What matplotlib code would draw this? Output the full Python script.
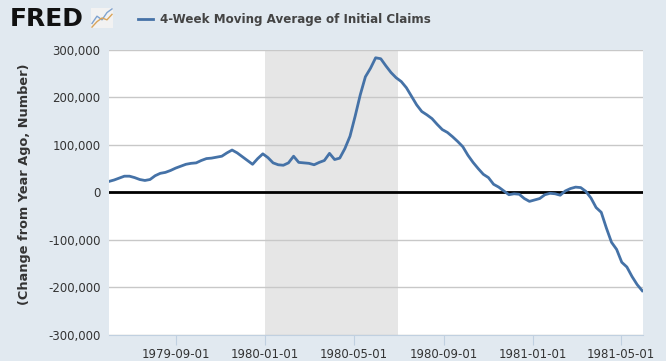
import matplotlib
matplotlib.use("Agg")
import matplotlib.pyplot as plt
import matplotlib.dates as mdates
from matplotlib.lines import Line2D
from matplotlib.ticker import FuncFormatter
import pandas as pd

# weekly data, change from year ago (thousands)
start_date = "1979-06-02"
claims_chg_k = [
    23, 26, 30, 34, 34, 31, 27, 25, 27, 35,
    40, 42, 46, 51, 55, 59, 61, 62, 67, 71,
    72, 74, 76, 83, 89, 83, 75, 67, 59, 71,
    81, 73, 62, 58, 57, 62, 76, 63, 62, 61,
    58, 63, 67, 82, 69, 72, 92, 118, 160, 205,
    243, 261, 283, 281, 266, 252, 241, 233, 220, 202,
    184, 170, 163, 155, 143, 132, 126, 117, 107, 96,
    78, 63, 50, 38, 31, 17, 11, 3, -5, -3,
    -4, -13, -19, -16, -13, -5, -2, -3, -6, 3,
    8, 11, 10, 2, -12, -32, -42, -75, -105, -120,
    -147, -157, -177, -194, -207,
]
recession = ("1980-01-01", "1980-07-01")
xtick_dates = ["1979-09-01", "1980-01-01", "1980-05-01",
               "1980-09-01", "1981-01-01", "1981-05-01"]
yticks = [-300000, -200000, -100000, 0, 100000, 200000, 300000]

dates = pd.date_range(start_date, periods=len(claims_chg_k), freq="7D")
values = [v * 1000 for v in claims_chg_k]

bg = "#e1e9f0"
line_col = "#4572a7"
txt_col = "#333333"

fig = plt.figure(figsize=(6.66, 3.61), dpi=100, facecolor=bg)
ax = fig.add_axes([109 / 666, 1 - 335 / 361, (643 - 109) / 666, (335 - 49.7) / 361])
ax.set_facecolor("white")

ax.axvspan(pd.Timestamp(recession[0]), pd.Timestamp(recession[1]),
           color="#e6e6e6", lw=0, zorder=0)
for yv in yticks:
    if yv != 0:
        ax.axhline(yv, color="#c8c8c8", lw=1, zorder=1)
ax.axhline(0, color="black", lw=2, zorder=2)
ax.plot(dates, values, color=line_col, lw=2, zorder=3)

ax.set_xlim(dates[0], pd.Timestamp("1981-05-31"))
ax.set_ylim(-300000, 300000)
ax.set_yticks(yticks)
ax.yaxis.set_major_formatter(FuncFormatter(lambda v, p: "{:,.0f}".format(v)))
ax.set_xticks([pd.Timestamp(d) for d in xtick_dates])
ax.xaxis.set_major_formatter(mdates.DateFormatter("%Y-%m-%d"))

for s in ["top", "right", "left"]:
    ax.spines[s].set_visible(False)
ax.spines["bottom"].set_color("#c0d0e0")
ax.spines["bottom"].set_linestyle((0, (1, 1)))
ax.tick_params(axis="y", length=0, pad=6, labelsize=8.5, labelcolor=txt_col)
ax.tick_params(axis="x", length=7, color="#c0d0e0", pad=2,
               labelsize=8.5, labelcolor=txt_col)

fig.text(25 / 666, 1 - 184 / 361, "(Change from Year Ago, Number)",
         rotation=90, ha="center", va="center", fontsize=9.3,
         fontweight="bold", color=txt_col)

# header: logo and legend
fig.text(10 / 666, 1 - 19 / 361, "FRED", fontsize=18, fontweight="heavy",
         color="#111111", ha="left", va="center")
icon = fig.add_axes([91 / 666, 1 - 28 / 361, 22 / 666, 20 / 361])
icon.set_facecolor("#f2f2f2")
icon.plot([0, 1, 2, 3, 4], [0.2, 0.6, 0.4, 0.8, 1.0], color="#7fa3d0", lw=1)
icon.plot([0, 1, 2, 3, 4], [0.0, 0.3, 0.5, 0.4, 0.7], color="#d9a45a", lw=1)
icon.set_xticks([])
icon.set_yticks([])
for s in icon.spines.values():
    s.set_visible(False)

fig.add_artist(Line2D([138 / 666, 153 / 666], [1 - 19 / 361, 1 - 19 / 361],
                      color=line_col, lw=2))
fig.text(160 / 666, 1 - 19 / 361, "4-Week Moving Average of Initial Claims",
         fontsize=8.6, fontweight="bold", color="#444444", ha="left", va="center")

fig.savefig("out.png", dpi=100, facecolor=bg)
